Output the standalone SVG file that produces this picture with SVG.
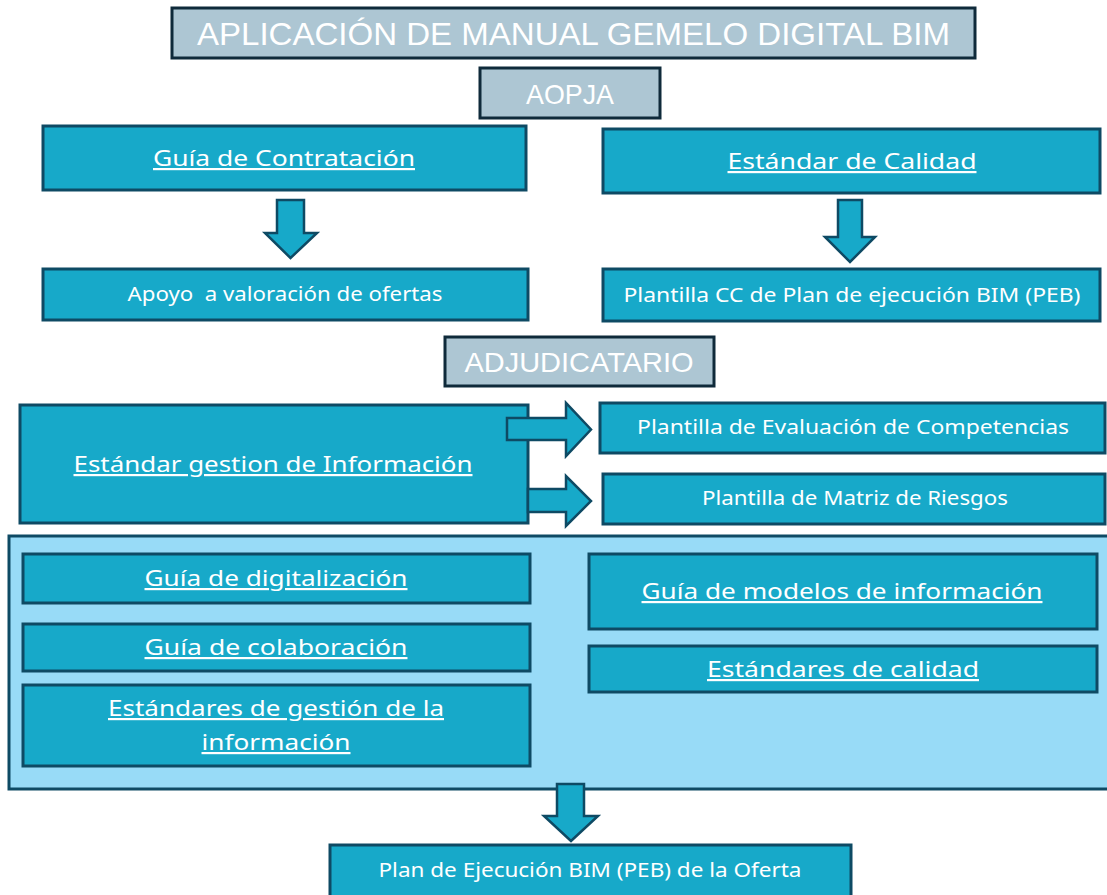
<svg xmlns="http://www.w3.org/2000/svg" width="1107" height="895" viewBox="0 0 1107 895">
<style>
.hdr{fill:#adc6d3;stroke:#0f2a3a;stroke-width:3}
.box{fill:#17a9c9;stroke:#0e4a64;stroke-width:3}
.cont{fill:#98dbf7;stroke:#0e4a64;stroke-width:3}
.arr{fill:#17a9c9;stroke:#0e4a64;stroke-width:2.5;stroke-linejoin:miter}
text{fill:#ffffff;font-family:"Noto Sans","Open Sans","Liberation Sans",sans-serif;text-anchor:middle}
.ht{font-family:"Liberation Sans",sans-serif}
.u{text-decoration:underline}
</style>
<rect width="1107" height="895" fill="#ffffff"/>
<g id="title"><rect class="hdr" x="172" y="8" width="803" height="50"/><text class="ht" x="573.5" y="45" font-size="32" textLength="753" lengthAdjust="spacingAndGlyphs">APLICACIÓN DE MANUAL GEMELO DIGITAL BIM</text></g>
<g id="aopja"><rect class="hdr" x="480" y="68" width="180" height="50"/><text class="ht" x="570" y="104" font-size="28" textLength="88" lengthAdjust="spacingAndGlyphs">AOPJA</text></g>
<g id="guia-contratacion"><rect class="box" x="43" y="126" width="483" height="64"/><text class="u" x="284" y="166" font-size="22" textLength="262" lengthAdjust="spacingAndGlyphs">Guía de Contratación</text></g>
<g id="estandar-calidad"><rect class="box" x="603" y="129" width="497" height="64"/><text class="u" x="852" y="169" font-size="22" textLength="249" lengthAdjust="spacingAndGlyphs">Estándar de Calidad</text></g>
<g id="apoyo"><rect class="box" x="43" y="269" width="485" height="51"/><text x="285" y="301" font-size="19" textLength="315" lengthAdjust="spacingAndGlyphs" style="white-space:pre">Apoyo  a valoración de ofertas</text></g>
<g id="plantilla-cc"><rect class="box" x="603" y="269" width="497" height="52"/><text x="852" y="302" font-size="19" textLength="457" lengthAdjust="spacingAndGlyphs">Plantilla CC de Plan de ejecución BIM (PEB)</text></g>
<g id="adjudicatario"><rect class="hdr" x="445" y="337" width="269" height="49"/><text class="ht" x="579" y="372" font-size="28" textLength="229" lengthAdjust="spacingAndGlyphs">ADJUDICATARIO</text></g>
<g id="estandar-gestion"><rect class="box" x="20" y="405" width="508" height="118"/><text class="u" x="273" y="472" font-size="22" textLength="399" lengthAdjust="spacingAndGlyphs">Estándar gestion de Información</text></g>
<g id="plantilla-evaluacion"><rect class="box" x="600" y="403" width="505" height="50"/><text x="853" y="434" font-size="19" textLength="432" lengthAdjust="spacingAndGlyphs">Plantilla de Evaluación de Competencias</text></g>
<g id="plantilla-matriz"><rect class="box" x="603" y="474" width="502" height="50"/><text x="855" y="505" font-size="19" textLength="306" lengthAdjust="spacingAndGlyphs">Plantilla de Matriz de Riesgos</text></g>
<g id="contenedor"><rect class="cont" x="9" y="536" width="1110" height="253"/></g>
<g id="guia-digitalizacion"><rect class="box" x="23" y="554" width="507" height="49"/><text class="u" x="276" y="586" font-size="22" textLength="263" lengthAdjust="spacingAndGlyphs">Guía de digitalización</text></g>
<g id="guia-colaboracion"><rect class="box" x="23" y="624" width="507" height="47"/><text class="u" x="276" y="655" font-size="22" textLength="263" lengthAdjust="spacingAndGlyphs">Guía de colaboración</text></g>
<g id="estandares-gestion"><rect class="box" x="23" y="685" width="507" height="81"/><text class="u" x="276" y="716" font-size="22" textLength="336" lengthAdjust="spacingAndGlyphs">Estándares de gestión de la</text><text class="u" x="276" y="750" font-size="22" textLength="149" lengthAdjust="spacingAndGlyphs">información</text></g>
<g id="guia-modelos"><rect class="box" x="589" y="554" width="508" height="75"/><text class="u" x="842" y="599" font-size="22" textLength="401" lengthAdjust="spacingAndGlyphs">Guía de modelos de información</text></g>
<g id="estandares-calidad"><rect class="box" x="589" y="646" width="508" height="46"/><text class="u" x="843" y="677" font-size="22" textLength="272" lengthAdjust="spacingAndGlyphs">Estándares de calidad</text></g>
<g id="plan-ejecucion"><rect class="box" x="330" y="845" width="521" height="60"/><text x="590" y="877" font-size="19" textLength="423" lengthAdjust="spacingAndGlyphs">Plan de Ejecución BIM (PEB) de la Oferta</text></g>
<g id="connectors">
<polygon class="arr" points="277,200 304,200 304,233 317,233 290.5,258 265,233 277,233"/>
<polygon class="arr" points="838,200 862,200 862,237 875,237 850,262 825,237 838,237"/>
<polygon class="arr" points="507,418 566,418 566,403 591,429.5 566,456 566,440 507,440"/>
<polygon class="arr" points="528,489 566,489 566,476 591,501 566,526 566,512 528,512"/>
<polygon class="arr" points="557,784 584,784 584,816 598,816 571,841 544,816 557,816"/>
</g>
</svg>
